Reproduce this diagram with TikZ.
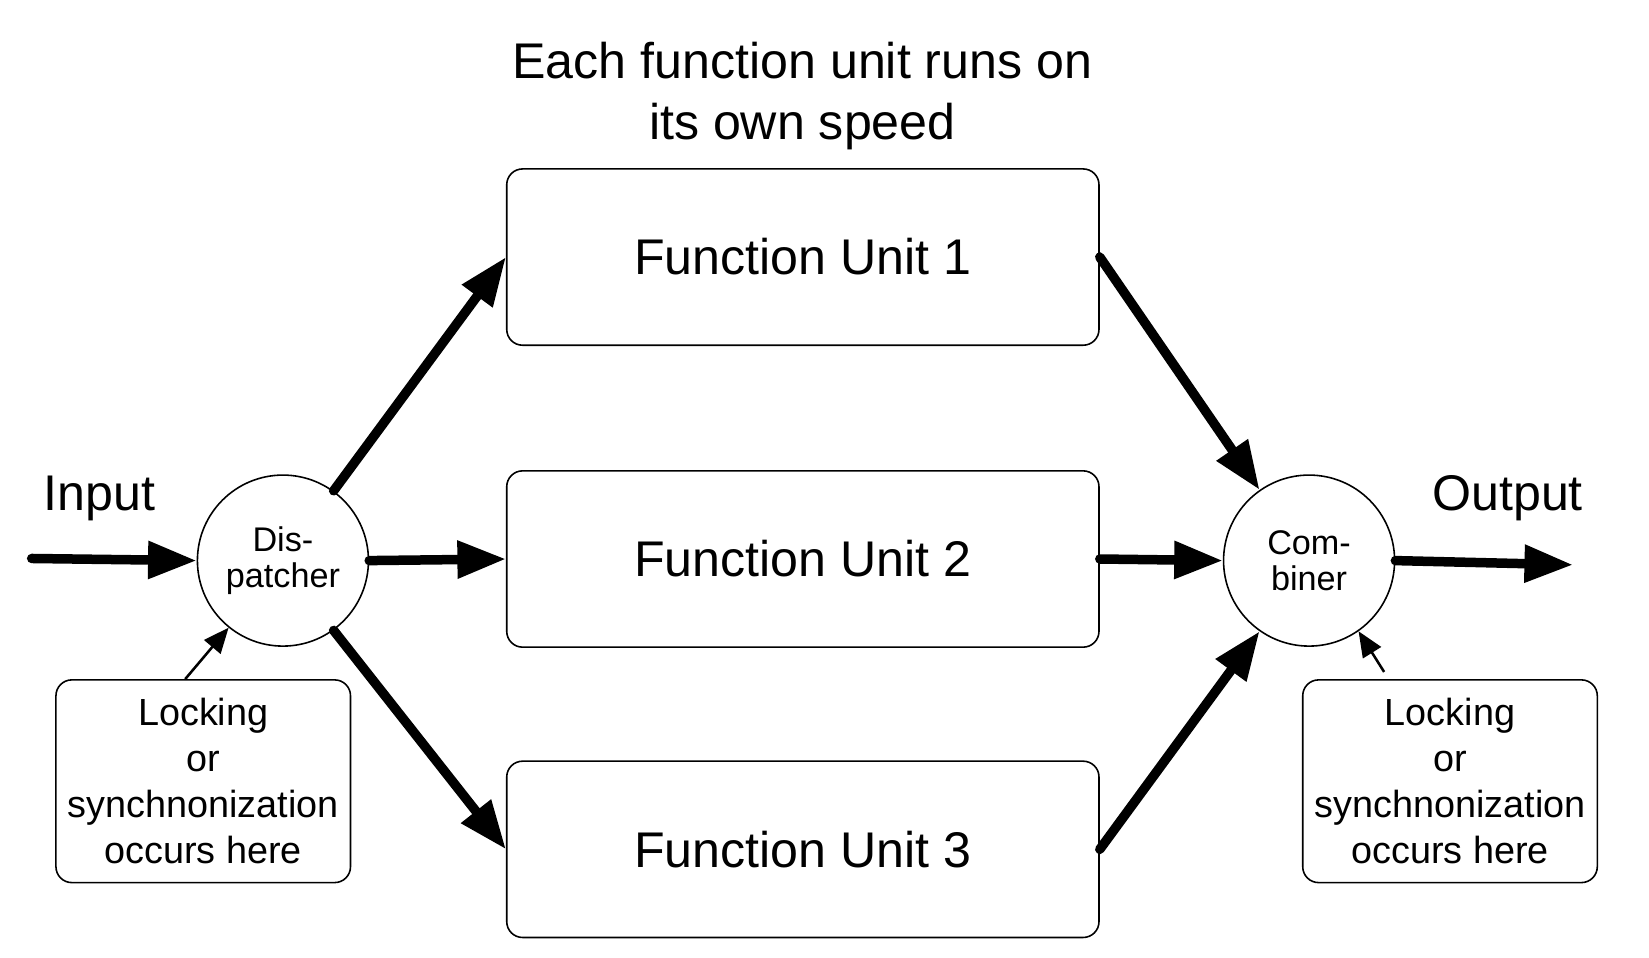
\documentclass[tikz,border=0pt]{standalone}
\usepackage{fontspec}
\setmainfont{Liberation Sans}
\usetikzlibrary{arrows.meta}

\begin{document}
\begin{tikzpicture}[x=0.5pt, y=-0.5pt]
    \tikzstyle{funit} = [rectangle, draw, rounded corners=7.5pt, line width=0.75pt, minimum width=280.5pt, minimum height=83.5pt, inner sep=0pt, font=\fontsize{23.75}{28.5}\selectfont]
    \tikzstyle{joint} = [circle, draw, line width=0.75pt, minimum size=81pt, inner sep=0pt, align=center, font=\fontsize{16.2}{17}\selectfont]
    \tikzstyle{lockbox} = [rectangle, draw, rounded corners=7.5pt, line width=0.75pt, minimum width=139.5pt, minimum height=96pt, inner sep=0pt, align=center, font=\fontsize{17.9}{21.75}\selectfont]
    \tikzstyle{biglabel} = [inner sep=0pt, align=center, font=\fontsize{23.75}{28.5}\selectfont]
    \tikzstyle{flow} = [line width=4.5pt, line cap=round, -{Triangle[length=23pt, width=17pt]}]
    \tikzstyle{hint} = [line width=1.2pt, -{Triangle[length=12pt, width=10pt]}]

    \useasboundingbox (0,0) rectangle (1562,907);

    % Title
    \node[biglabel] (title) at (760,91) {Each function unit runs on\\its own speed};

    % Function units
    \foreach \i/\y in {1/243.5, 2/529.5, 3/804.5} {
        \node[funit] (fu\i) at (760.5,\y) {Function Unit \i};
    }

    % Dispatcher and combiner
    \node[joint] (disp) at (268,531) {Dis-\\patcher};
    \node[joint] (comb) at (1240,531) {Com-\\biner};

    % Input and output
    \node[biglabel, anchor=base] (inlabel) at (94,484) {Input};
    \node[biglabel, anchor=base] (outlabel) at (1428,484) {Output};
    \coordinate (in) at (30,529);
    \coordinate (out) at (1490,535);

    % Locking notes
    \node[lockbox] (lockL) at (192.5,740) {Locking\\or\\synchnonization\\occurs here};
    \node[lockbox] (lockR) at (1373.5,740) {Locking\\or\\synchnonization\\occurs here};

    % Data flow
    \draw[flow] (in) -- (disp.west);
    \draw[flow] (disp.54) -- (fu1.west);
    \draw[flow] (disp.east) -- (fu2.west);
    \draw[flow] (disp.-54) -- (fu3.west);
    \draw[flow] (fu1.east) -- (comb.125);
    \draw[flow] (fu2.east) -- (comb.west);
    \draw[flow] (fu3.east) -- (comb.235);
    \draw[flow] (comb.east) -- (out);

    % Pointers to the notes
    \draw[hint] (lockL.100) -- (disp.231);
    \draw[hint, shorten <=4pt] (lockR.121) -- (comb.-55);
\end{tikzpicture}
\end{document}
